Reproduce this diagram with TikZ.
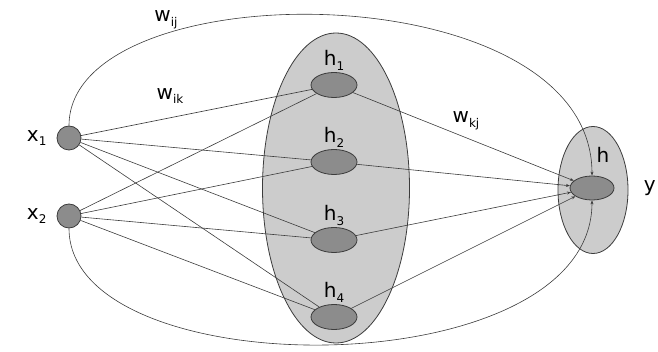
\documentclass[tikz,border=0pt]{standalone}
\usepackage{fontspec}
\setmainfont{DejaVu Sans}
\usetikzlibrary{shapes.geometric,positioning,arrows.meta}
\definecolor{layergray}{RGB}{204,204,204}
\definecolor{unitgray}{RGB}{140,140,140}
\definecolor{edgegray}{RGB}{60,60,60}
\newcommand{\lowsub}[1]{\raisebox{-0.45ex}{\fontsize{12}{12}\selectfont #1}}
\tikzset{
  unit/.style={ellipse,draw=edgegray,fill=unitgray,thick,minimum width=46pt,minimum height=25pt,inner sep=0pt},
  inunit/.style={circle,draw=edgegray,fill=unitgray,thick,minimum size=24pt,inner sep=0pt},
  layer/.style={ellipse,draw=edgegray,fill=layergray,thick,inner sep=0pt},
  wire/.style={edgegray,semithick},
  lbl/.style={font=\fontsize{20}{22}\selectfont,inner sep=1pt}
}

\begin{document}
\begin{tikzpicture}[x=1pt,y=-1pt]
    \useasboundingbox (0,0) rectangle (658,352);

    %% hidden layer and output layer
    \node[layer,minimum width=147pt,minimum height=310pt] (hid) at (336,188) {};
    \node[layer,minimum width=70pt,minimum height=127pt] (outl) at (593,190) {};

    %% units
    \node[inunit] (x1) at (69,138) {};
    \node[inunit] (x2) at (69,216) {};
    \node[unit] (h1) at (334,85) {};
    \node[unit] (h2) at (334,162) {};
    \node[unit] (h3) at (334,240) {};
    \node[unit] (h4) at (334,317) {};
    \node[unit,minimum width=44pt,minimum height=24pt] (out) at (592,188) {};

    %% labels
    \node[lbl,left=9pt of x1] (lx1) {x\lowsub{1}};
    \node[lbl,left=9pt of x2] (lx2) {x\lowsub{2}};
    \node[lbl,above=0pt of h1] (lh1) {h\lowsub{1}};
    \node[lbl,above=0pt of h2] (lh2) {h\lowsub{2}};
    \node[lbl,above=0pt of h3] (lh3) {h\lowsub{3}};
    \node[lbl,above=0pt of h4] (lh4) {h\lowsub{4}};
    \node[lbl] (lh) at (603,155) {h};
    \node[lbl,anchor=east] (ly) at (657,188) {y};
    \node[lbl] (wij) at (166,20) {w\lowsub{ij}};
    \node[lbl] (wik) at (170,96) {w\lowsub{ik}};
    \node[lbl] (wkj) at (466,121) {w\lowsub{kj}};

    %% input to hidden
    \foreach \i in {1,2}
      \foreach \k in {1,...,4}
        \draw[wire] (x\i) -- (h\k);

    %% hidden to output
    \foreach \k in {1,...,4}
      \draw[wire,-{Stealth[length=4pt,width=3pt]}] (h\k) -- (out);

    %% direct input to output
    \draw[wire,-{Stealth[length=4pt,width=3pt]}] (x1.north) .. controls (69,-30) and (592,-30) .. (out.north);
    \draw[wire,-{Stealth[length=4pt,width=3pt]}] (x2.south) .. controls (69,388) and (592,388) .. (out.south);

\end{tikzpicture}
\end{document}
